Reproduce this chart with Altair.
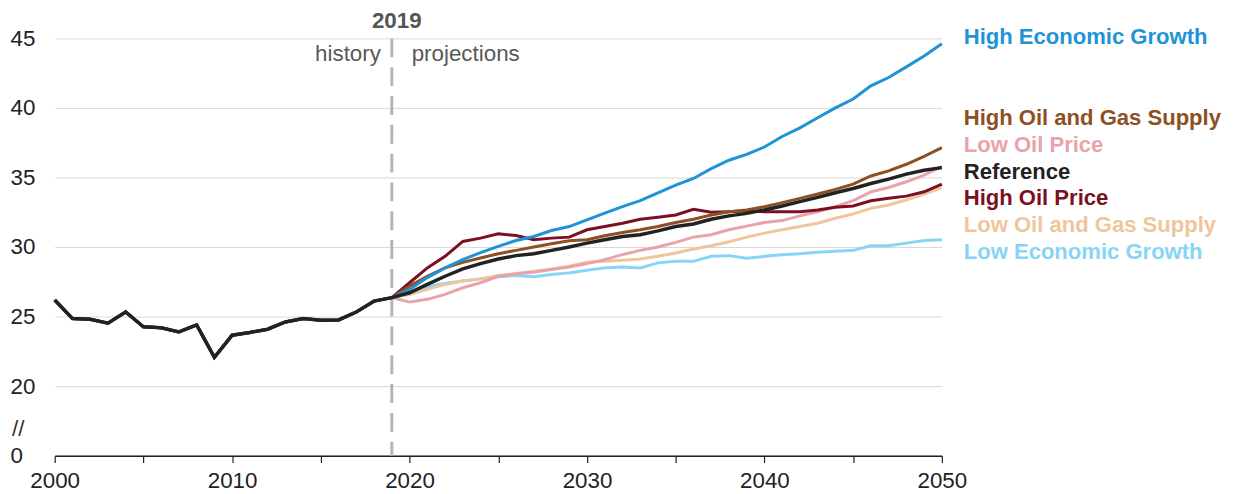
import altair as alt
import pandas as pd

FONT = "Liberation Sans"
FS = 22.5
LFS = 22.2

# ---- data ----
hist_years = list(range(2000, 2020))
history = [26.19, 24.86, 24.81, 24.52, 25.33, 24.26, 24.19, 23.90, 24.40, 22.07,
           23.66, 23.86, 24.09, 24.61, 24.86, 24.74, 24.76, 25.33, 26.11, 26.36]

proj_years = list(range(2019, 2051))

high_econ = [26.36, 26.95, 27.80, 28.50, 29.10, 29.60, 30.04, 30.47, 30.76, 31.19, 31.47,
             31.95, 32.43, 32.90, 33.33, 33.90, 34.45, 34.93, 35.64, 36.24, 36.66,
             37.19, 37.95, 38.57, 39.29, 40.00, 40.64, 41.59, 42.19, 42.95, 43.74, 44.62]
high_og = [26.36, 27.19, 27.90, 28.50, 28.90, 29.21, 29.52, 29.76, 30.00, 30.24, 30.45,
           30.52, 30.81, 31.05, 31.24, 31.47, 31.76, 32.00, 32.30, 32.54, 32.66,
           32.90, 33.19, 33.50, 33.81, 34.14, 34.52, 35.11, 35.47, 35.95, 36.52, 37.14]
low_price = [26.36, 26.04, 26.24, 26.59, 27.07, 27.43, 27.90, 28.07, 28.19, 28.38, 28.57,
             28.81, 29.09, 29.45, 29.76, 30.00, 30.33, 30.71, 30.88, 31.24, 31.50,
             31.76, 31.90, 32.24, 32.54, 32.90, 33.33, 33.97, 34.28, 34.69, 35.16, 35.81]
reference = [26.36, 26.71, 27.31, 27.90, 28.43, 28.81, 29.14, 29.38, 29.52, 29.76, 30.00,
             30.28, 30.52, 30.76, 30.88, 31.16, 31.47, 31.66, 32.00, 32.24, 32.42,
             32.66, 32.95, 33.26, 33.57, 33.90, 34.21, 34.57, 34.88, 35.24, 35.52, 35.71]
high_price = [26.36, 27.43, 28.50, 29.33, 30.40, 30.64, 30.95, 30.83, 30.52, 30.64, 30.71,
              31.24, 31.47, 31.71, 32.00, 32.14, 32.30, 32.71, 32.50, 32.54, 32.60,
              32.54, 32.54, 32.54, 32.66, 32.86, 32.95, 33.33, 33.50, 33.66, 33.97, 34.52]
low_og = [26.36, 26.59, 26.95, 27.31, 27.55, 27.71, 27.95, 28.10, 28.26, 28.43, 28.62,
          28.90, 28.97, 29.05, 29.14, 29.33, 29.57, 29.86, 30.09, 30.38, 30.71,
          31.00, 31.24, 31.47, 31.71, 32.07, 32.38, 32.78, 33.02, 33.38, 33.81, 34.28]
low_econ = [26.36, 26.71, 27.14, 27.38, 27.55, 27.71, 27.86, 27.95, 27.86, 28.02, 28.14,
            28.33, 28.50, 28.57, 28.50, 28.86, 28.97, 28.97, 29.33, 29.38, 29.20,
            29.33, 29.45, 29.52, 29.62, 29.69, 29.76, 30.09, 30.09, 30.28, 30.47, 30.52]

series_names = ["High Economic Growth", "High Oil and Gas Supply", "Low Oil Price",
                "Reference", "High Oil Price", "Low Oil and Gas Supply", "Low Economic Growth"]
series_values = [high_econ, high_og, low_price, reference, high_price, low_og, low_econ]
series_colors = ["#1f93d6", "#8c5023", "#e8a3aa", "#222222", "#7b1020", "#efc69b", "#87d4f7"]

# drawing order (last on top)
draw_order = ["Low Economic Growth", "Low Oil and Gas Supply", "Low Oil Price",
              "High Oil Price", "High Oil and Gas Supply", "High Economic Growth", "Reference"]

rows = []
for name, vals in zip(series_names, series_values):
    years = hist_years[:-1] + proj_years
    values = history[:-1] + vals
    for yr, v in zip(years, values):
        rows.append({"series": name, "year": yr, "value": v})
df = pd.DataFrame(rows)

xscale = alt.Scale(domain=[2000, 2050], nice=False, zero=False)
yscale = alt.Scale(domain=[15, 45], nice=False, zero=False)

xaxis = alt.Axis(values=list(range(2000, 2051, 5)), format="d",
                 labelExpr="datum.value % 10 == 0 ? datum.label : ''",
                 grid=False, domainColor="#222222", domainWidth=1.5,
                 tickColor="#222222", tickSize=7, tickWidth=1.2,
                 labelFont=FONT, labelFontSize=FS, labelColor="#222222",
                 labelPadding=7, labelFlush=False, labelOverlap=False, title=None)
yaxis = alt.Axis(values=[15, 20, 25, 30, 35, 40, 45],
                 labelExpr="datum.value == 15 ? '0' : datum.label",
                 grid=True, gridColor="#d9d9d9", gridWidth=1,
                 domain=False, ticks=False, labelAlign="left", labelPadding=45,
                 labelFont=FONT, labelFontSize=FS, labelColor="#222222", title=None)

layers = []

# dashed 2019 divider
rule = alt.Chart(pd.DataFrame({"year": [2019], "top": [45], "bottom": [15]})).mark_rule(
    color="#b5b5b5", strokeWidth=3, strokeDash=[19, 10]
).encode(
    x=alt.X("year:Q", scale=xscale, axis=xaxis),
    y=alt.Y("top:Q", scale=yscale, axis=yaxis),
    y2="bottom:Q",
)
layers.append(rule)

for name in draw_order:
    i = series_names.index(name)
    sub = df[df.series == name]
    layers.append(
        alt.Chart(sub).mark_line(color=series_colors[i],
                                 strokeWidth=3.5 if name == "Reference" else 3)
        .encode(x=alt.X("year:Q", scale=xscale, axis=xaxis),
                y=alt.Y("value:Q", scale=yscale, axis=yaxis))
    )

# annotations
layers.append(
    alt.Chart(pd.DataFrame({"t": ["2019"], "year": [2019]}))
    .mark_text(font=FONT, fontSize=FS, fontWeight="bold", color="#555555",
               align="center", baseline="alphabetic", dx=5)
    .encode(x=alt.X("year:Q", scale=xscale), y=alt.value(-10.5), text="t:N")
)
layers.append(
    alt.Chart(pd.DataFrame({"t": ["history"], "year": [2019]}))
    .mark_text(font=FONT, fontSize=FS, color="#595959", align="right",
               baseline="alphabetic", dx=-11)
    .encode(x=alt.X("year:Q", scale=xscale), y=alt.value(22.5), text="t:N")
)
layers.append(
    alt.Chart(pd.DataFrame({"t": ["projections"], "year": [2019]}))
    .mark_text(font=FONT, fontSize=FS, color="#595959", align="left",
               baseline="alphabetic", dx=20)
    .encode(x=alt.X("year:Q", scale=xscale), y=alt.value(22.5), text="t:N")
)
layers.append(
    alt.Chart(pd.DataFrame({"t": ["//"]}))
    .mark_text(font=FONT, fontSize=FS, color="#333333", align="left", baseline="middle")
    .encode(x=alt.value(-43), y=alt.value(393), text="t:N")
)

# series labels on the right
label_y = [-1.3, 80.2, 107.7, 134.4, 160.7, 187.7, 214.7]
for name, color, ly in zip(series_names, series_colors, label_y):
    layers.append(
        alt.Chart(pd.DataFrame({"t": [name]}))
        .mark_text(font=FONT, fontSize=LFS, fontWeight="bold", color=color,
                   align="left", baseline="middle")
        .encode(x=alt.value(915), y=alt.value(ly), text="t:N")
    )

chart = alt.layer(*layers).properties(
    width=893, height=420,
    autosize=alt.AutoSizeParams(type="none"),
    padding={"left": 47, "top": 29, "right": 285, "bottom": 35},
).configure_view(stroke=None)

chart.save("out.html", embed_options={"renderer": "svg", "actions": False})
